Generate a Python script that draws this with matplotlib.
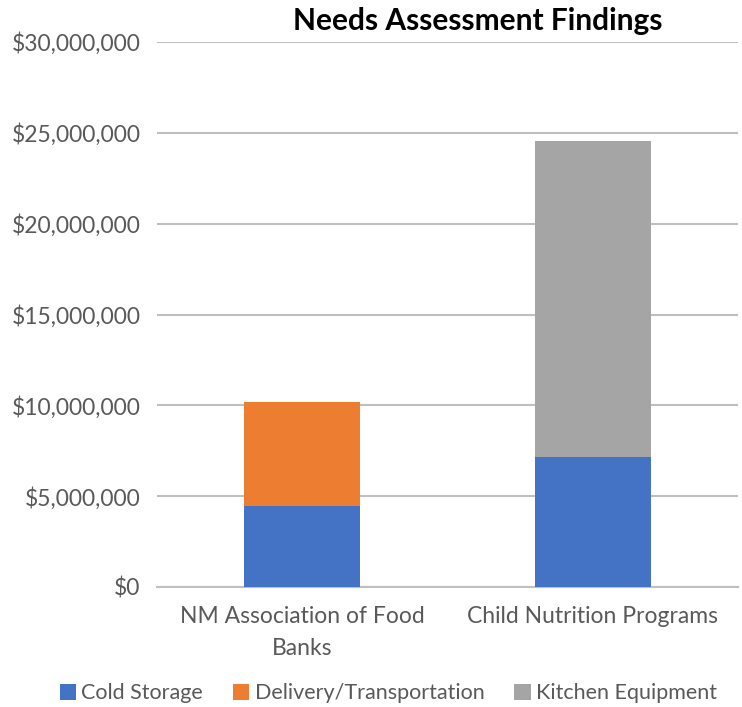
import matplotlib.pyplot as plt
import numpy as np
from matplotlib.ticker import FuncFormatter

# data
categories = ['NM Association of Food\nBanks', 'Child Nutrition Programs']
cold_storage = [4450000, 7130000]
delivery = [5720000, 0]
kitchen = [0, 17430000]

plt.rcParams['font.family'] = ['Lato', 'DejaVu Sans']

fig = plt.figure(figsize=(7.42, 7.07), dpi=100)
ax = fig.add_axes([157 / 742, 120 / 707, 581 / 742, 545 / 707])

x = np.arange(len(categories))
w = 0.4
bottom2 = np.array(cold_storage)
bottom3 = bottom2 + np.array(delivery)
ax.bar(x, cold_storage, w, color='#4472c4', label='Cold Storage', zorder=3)
ax.bar(x, delivery, w, bottom=bottom2, color='#ed7d31', label='Delivery/Transportation', zorder=3)
ax.bar(x, kitchen, w, bottom=bottom3, color='#a5a5a5', label='Kitchen Equipment', zorder=3)

ax.set_xlim(-0.5, 1.5)
ax.set_ylim(0, 30000000)
ax.set_yticks(np.arange(0, 30000001, 5000000))
ax.yaxis.set_major_formatter(FuncFormatter(lambda v, p: '${:,.0f}'.format(v)))
ax.grid(axis='y', color='#bfbfbf', linewidth=1.5, zorder=0)
for s in ['top', 'right', 'left']:
    ax.spines[s].set_visible(False)
ax.spines['bottom'].set_color('#bfbfbf')
ax.spines['bottom'].set_linewidth(1.5)
ax.tick_params(axis='y', length=0, pad=12, labelsize=16.5, labelcolor='#595959')
ax.tick_params(axis='x', length=0, pad=14, labelsize=16.5, labelcolor='#595959')
ax.set_xticks(x)
ax.set_xticklabels(categories, linespacing=1.6)

fig.text(0.644, 0.97, 'Needs Assessment Findings', ha='center', va='center',
         fontsize=21.5, fontweight='bold', color='black')

ax.legend(loc='center', bbox_to_anchor=(0.398, -0.195), ncol=3, frameon=False,
          fontsize=15.5, labelcolor='#595959', handlelength=0.75, handleheight=0.75,
          handletextpad=0.25, columnspacing=1.4)

plt.savefig('out.png', dpi=100)
